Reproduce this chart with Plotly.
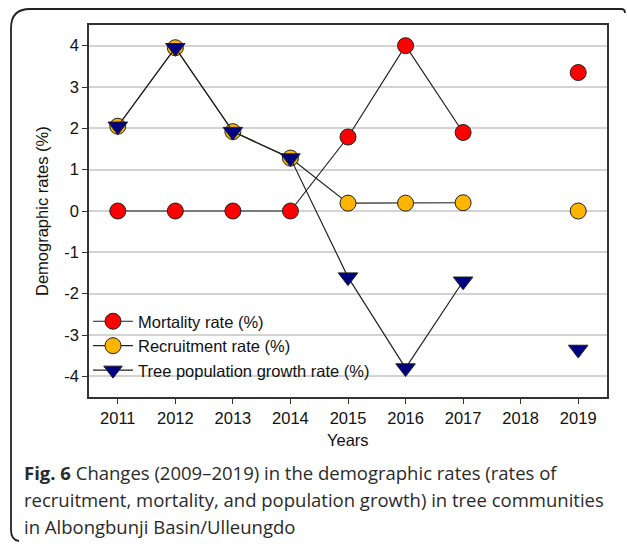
import plotly.graph_objects as go

years = [2011, 2012, 2013, 2014, 2015, 2016, 2017, 2018, 2019]
mortality = [0.0, 0.0, 0.0, 0.0, 1.79, 4.0, 1.9, None, 3.35]
recruitment = [2.05, 3.95, 1.92, 1.28, 0.19, 0.19, 0.2, None, 0.0]
growth = [2.05, 3.95, 1.92, 1.28, -1.6, -3.8, -1.7, None, -3.35]
series_names = ["Mortality rate (%)", "Recruitment rate (%)", "Tree population growth rate (%)"]
y_ticks = [-4, -3, -2, -1, 0, 1, 2, 3, 4]
y_tick_labels = ["-4", "-3", "-2", "-1", "0", "1", "2", "3", "4"]
caption_lines = [
    "<b>Fig. 6</b> Changes (2009–2019) in the demographic rates (rates of",
    "recruitment, mortality, and population growth) in tree communities",
    "in Albongbunji Basin/Ulleungdo",
]

W, H = 627, 544
L, R, T, B = 89, 607, 25, 397


def px(x):
    return (x - L) / (R - L)


def py(y):
    return (B - y) / (B - T)


fig = go.Figure()
styles = [
    dict(symbol="circle", color="#ff0000", size=16),
    dict(symbol="circle", color="#ffb400", size=16),
    dict(symbol="triangle-down", color="#000080", size=17),
]
for name, vals, st in zip(series_names, [mortality, recruitment, growth], styles):
    fig.add_trace(go.Scatter(
        x=years, y=vals, name=name, mode="lines+markers",
        connectgaps=False,
        line=dict(color="#222222", width=1.2),
        marker=dict(symbol=st["symbol"], color=st["color"], size=st["size"],
                    line=dict(color="#222222", width=1)),
    ))

font_main = "Liberation Sans, Arial, sans-serif"

fig.update_layout(
    width=W, height=H,
    margin=dict(l=L, r=W - R, t=T, b=H - B, pad=0),
    paper_bgcolor="white", plot_bgcolor="white",
    showlegend=True,
    legend=dict(x=px(88), y=py(304), xanchor="left", yanchor="top",
                font=dict(family=font_main, size=16.5, color="#111111"),
                bgcolor="rgba(0,0,0,0)", tracegroupgap=0, itemwidth=40),
    font=dict(family=font_main, size=16.5, color="#111111"),
)
fig.update_xaxes(
    range=[2010.5, 2019.5], tickvals=years, ticks="outside", ticklen=5,
    tickcolor="#333333", showline=True, linecolor="#333333", linewidth=1.5,
    mirror=True, showgrid=False, zeroline=False,
    tickfont=dict(family=font_main, size=16.5, color="#111111"),
)
fig.update_yaxes(
    range=[-4.5, 4.5], tickvals=y_ticks, ticktext=y_tick_labels,
    ticks="outside", ticklen=5, tickcolor="#333333",
    showline=True, linecolor="#333333", linewidth=1.5, mirror=True,
    showgrid=True, gridcolor="#d3d3d3", gridwidth=1.5, zeroline=False,
    tickfont=dict(family=font_main, size=16.5, color="#111111"),
)

annos = [
    dict(text="Years", x=px(348), y=py(440), xref="paper", yref="paper",
         xanchor="center", yanchor="middle", showarrow=False,
         font=dict(family=font_main, size=16.5, color="#111111")),
    dict(text="Demographic rates (%)", x=px(42), y=py(211), xref="paper", yref="paper",
         xanchor="center", yanchor="middle", showarrow=False, textangle=-90,
         font=dict(family=font_main, size=16.5, color="#111111")),
]
for i, line in enumerate(caption_lines):
    annos.append(dict(text=line, x=px(22), y=py(472 + 27 * i), xref="paper", yref="paper",
                      xanchor="left", yanchor="middle", showarrow=False,
                      font=dict(family="Open Sans, Noto Sans, sans-serif", size=18.5, color="#2a2a2a")))
fig.update_layout(annotations=annos)

# card border
def P(x, y):
    return f"{px(x):.5f},{py(y):.5f}"

path = (f"M {P(19, 541)} Q {P(11, 540)} {P(11, 530)} L {P(11, 28)} "
        f"Q {P(11, 9)} {P(30, 9)} L {P(621, 9)} Q {P(625, 9)} {P(625, 13)}")
fig.add_shape(type="path", path=path, xref="paper", yref="paper",
              line=dict(color="#222222", width=1.8), layer="above")

fig.write_html("out.html", config={"displayModeBar": False},
               post_script="document.body.style.margin='0';document.body.style.padding='0';")
